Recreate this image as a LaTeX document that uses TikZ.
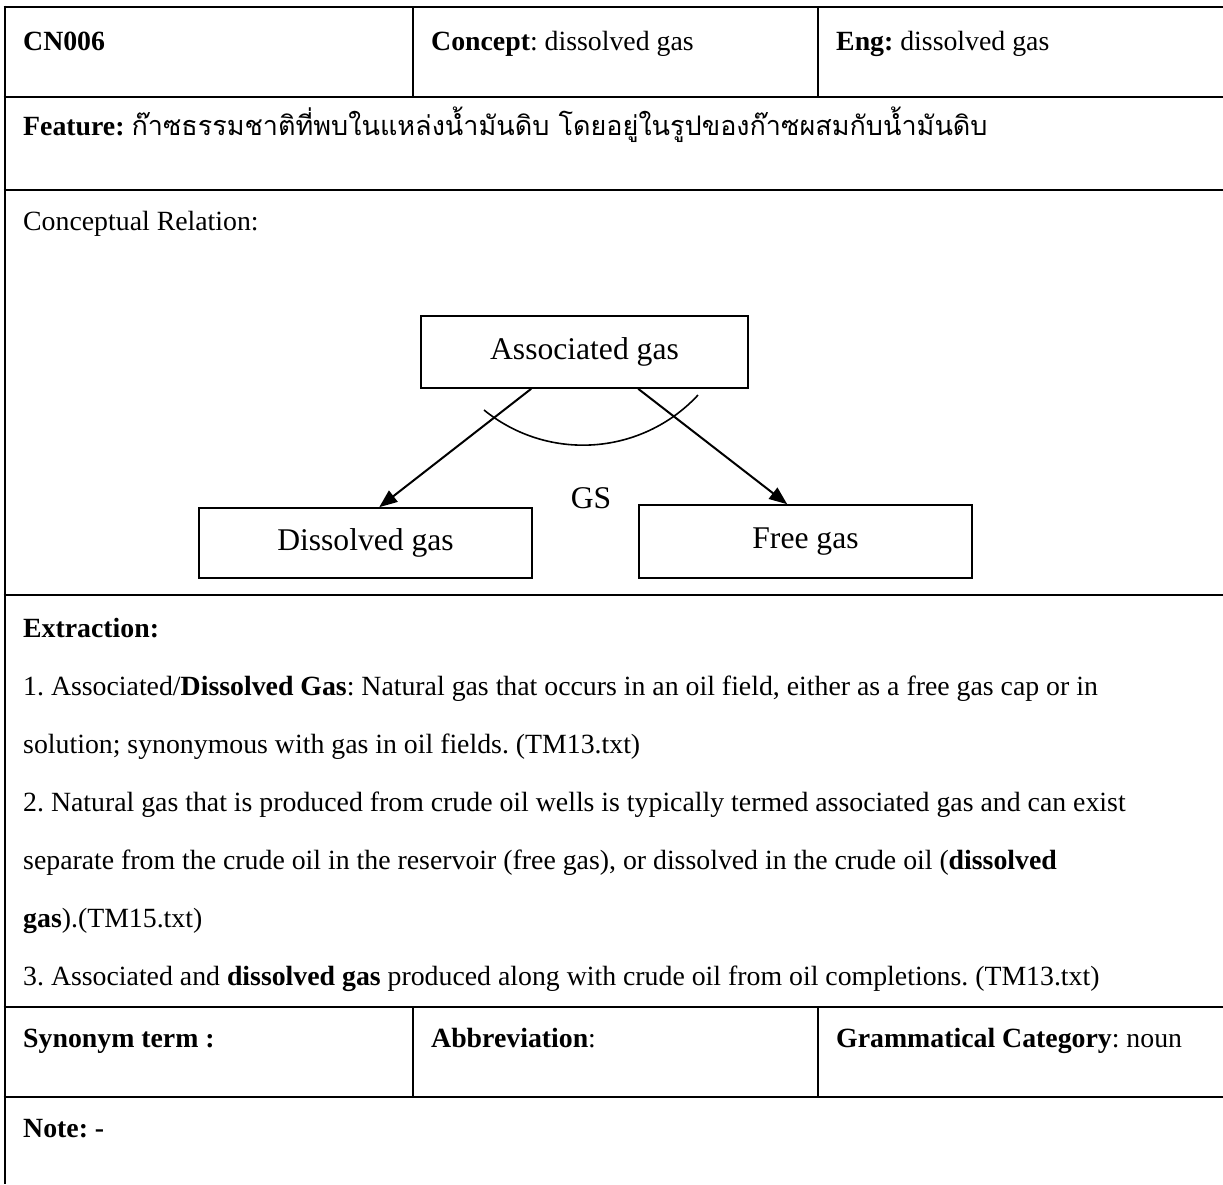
\documentclass[tikz,border=0pt]{standalone}
\usepackage{fontspec}
\setmainfont{Liberation Serif}
\newfontfamily\thaifont[Script=Thai]{Loma}
\usetikzlibrary{arrows.meta}
\frenchspacing
\begin{document}
\begin{tikzpicture}[x=1pt,y=-1pt,
  rule/.style={line width=2.6pt},
  cell/.style={anchor=base west,inner sep=0pt,font=\fontsize{27.8}{33}\selectfont},
  concept/.style={draw,line width=1.6pt,inner sep=0pt,font=\fontsize{31.6}{38}\selectfont},
  link/.style={line width=2pt,-{Triangle[length=18pt,width=14pt]}},
]
\useasboundingbox (0,0) rectangle (1223,1184);

% table rules
\foreach \yy in {7,97,190,595,1007,1097}
  \draw[rule] (3.7,\yy) -- (1223,\yy);
\draw[rule] (5,5.7) -- (5,1184);
\draw[rule] (413,7) -- (413,97);
\draw[rule] (818,7) -- (818,97);
\draw[rule] (413,1007) -- (413,1097);
\draw[rule] (818,1007) -- (818,1097);

% header row
\node[cell] (id) at (23,50) {\textbf{CN006}};
\node[cell] (cpt) at (431,50) {\textbf{Concept}: dissolved gas};
\node[cell] (eng) at (836,50) {\textbf{Eng:} dissolved gas};

% feature row
\node[cell] (feat) at (23,135) {\textbf{Feature:} {\thaifont\fontsize{27}{33}\selectfont ก๊าซธรรมชาติที่พบในแหล่งน้ำมันดิบ โดยอยู่ในรูปของก๊าซผสมกับน้ำมันดิบ}};

% conceptual relation
\node[cell] (rel) at (23,230) {Conceptual Relation:};
\node[concept,minimum width=327pt,minimum height=72pt] (assoc) at (584.5,352) {Associated gas};
\node[concept,minimum width=333pt,minimum height=70pt] (dis) at (365.5,543) {Dissolved gas};
\node[concept,minimum width=333pt,minimum height=73pt] (free) at (805.5,541.5) {Free gas};
\node[inner sep=0pt,anchor=base,font=\fontsize{31.6}{38}\selectfont] (gs) at (591,508) {GS};
\draw[link] ([xshift=111pt]assoc.south west) -- ([xshift=181pt]dis.north west);
\draw[link] ([xshift=218pt]assoc.south west) -- ([xshift=149pt]free.north west);
\draw[line width=1.6pt] (484,410) arc[start angle=129.1, end angle=42.9, radius=157];

% extraction
\node[cell] (ex0) at (23,637) {\textbf{Extraction:}};
\node[cell] (ex1) at (23,695) {1. Associated/\textbf{Dissolved Gas}: Natural gas that occurs in an oil field, either as a free gas cap or in};
\node[cell] (ex2) at (23,753) {solution; synonymous with gas in oil fields. (TM13.txt)};
\node[cell] (ex3) at (23,811) {2. Natural gas that is produced from crude oil wells is typically termed associated gas and can exist};
\node[cell] (ex4) at (23,869) {separate from the crude oil in the reservoir (free gas), or dissolved in the crude oil (\textbf{dissolved}};
\node[cell] (ex5) at (23,927) {\textbf{gas}).(TM15.txt)};
\node[cell] (ex6) at (23,985) {3. Associated and \textbf{dissolved gas} produced along with crude oil from oil completions. (TM13.txt)};

% synonym row
\node[cell] (syn) at (23,1047) {\textbf{Synonym term :}};
\node[cell] (abbr) at (431,1047) {\textbf{Abbreviation}:};
\node[cell] (gram) at (836,1047) {\textbf{Grammatical Category}: noun};

% note
\node[cell] (note) at (23,1137) {\textbf{Note: -}};
\end{tikzpicture}
\end{document}
